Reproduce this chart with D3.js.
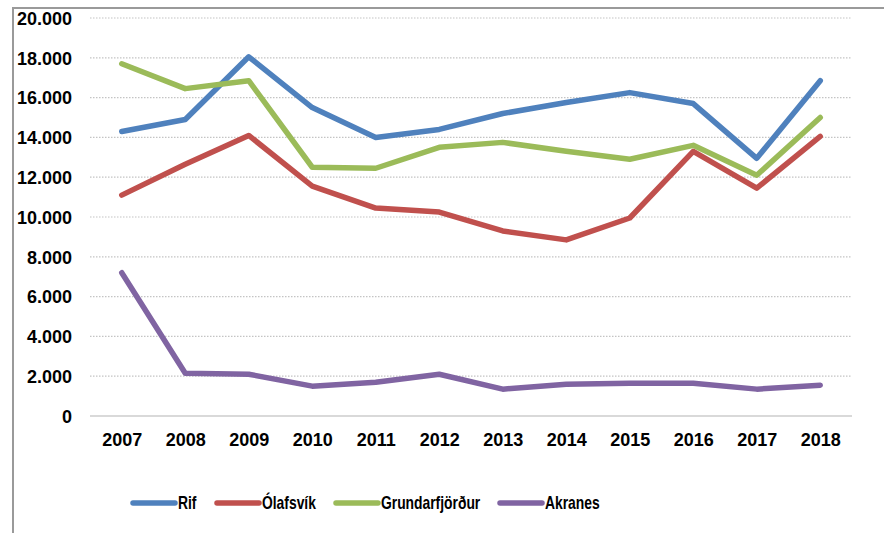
<!DOCTYPE html>
<html>
<head>
<meta charset="utf-8">
<script src="https://cdn.jsdelivr.net/npm/d3@7"></script>
<style>
  html, body { margin: 0; padding: 0; background: #fff; }
  svg { display: block; }
  text { font-family: "Liberation Sans", Arial, sans-serif; font-weight: bold; fill: #000; }
</style>
</head>
<body>
<svg id="chart" width="884" height="533"></svg>
<script>
// Yearly values per harbour
const years = ["2007","2008","2009","2010","2011","2012","2013","2014","2015","2016","2017","2018"];
const rif = [14300, 14900, 18050, 15500, 14000, 14400, 15200, 15750, 16250, 15700, 12950, 16850];
const olafsvik = [11100, 12650, 14100, 11550, 10450, 10250, 9300, 8850, 9950, 13300, 11450, 14050];
const grundarfjordur = [17700, 16450, 16850, 12500, 12450, 13500, 13750, 13300, 12900, 13600, 12100, 15000];
const akranes = [7200, 2150, 2100, 1500, 1700, 2100, 1350, 1600, 1650, 1650, 1350, 1550];
const yTicks = [0, 2000, 4000, 6000, 8000, 10000, 12000, 14000, 16000, 18000, 20000];

const series = [
  { name: "Rif", values: rif, color: "#4F81BD" },
  { name: "Ólafsvík", values: olafsvik, color: "#C0504D" },
  { name: "Grundarfjörður", values: grundarfjordur, color: "#9BBB59" },
  { name: "Akranes", values: akranes, color: "#8064A2" }
];

const svg = d3.select("#chart");

// Frame lines (left and top)
svg.append("path")
  .attr("d", "M13,533 L13,8 L884,8")
  .attr("fill", "none")
  .attr("stroke", "#9a9a9a")
  .attr("stroke-width", 2);

const plot = { left: 90, right: 852, top: 18, bottom: 416 };

const x = d3.scalePoint().domain(years).range([plot.left, plot.right]).padding(0.5);
const y = d3.scaleLinear().domain([0, 20000]).range([plot.bottom, plot.top]);

const fmt = v => v === 0 ? "0" : d3.format(",")(v).replace(/,/g, ".");

// Horizontal gridlines
svg.append("g").selectAll("line")
  .data(yTicks.filter(t => t > 0))
  .join("line")
  .attr("x1", plot.left).attr("x2", plot.right)
  .attr("y1", d => y(d)).attr("y2", d => y(d))
  .attr("stroke", "#c4c4c4")
  .attr("stroke-width", 1.2)
  .attr("stroke-dasharray", "1.5 1.5");

// Baseline
svg.append("line")
  .attr("x1", plot.left).attr("x2", plot.right)
  .attr("y1", y(0)).attr("y2", y(0))
  .attr("stroke", "#d9d9d9")
  .attr("stroke-width", 2);

// Y axis labels
const yAxis = d3.axisLeft(y).tickValues(yTicks).tickFormat(fmt).tickSize(0).tickPadding(0);
const gy = svg.append("g").attr("transform", "translate(72,0)").call(yAxis);
gy.select(".domain").remove();
gy.selectAll("text")
  .attr("font-size", 18)
  .attr("dy", "0.35em")
  .style("font-family", "'Liberation Sans', Arial, sans-serif")
  .style("font-weight", "bold");

// X axis labels
const xAxis = d3.axisBottom(x).tickSize(0).tickPadding(0);
const gx = svg.append("g").attr("transform", "translate(0,446)").call(xAxis);
gx.select(".domain").remove();
gx.selectAll("text")
  .attr("font-size", 18)
  .attr("dy", 0)
  .style("font-family", "'Liberation Sans', Arial, sans-serif")
  .style("font-weight", "bold");

// Series lines
const line = d3.line()
  .x((d, i) => x(years[i]))
  .y(d => y(d));

svg.append("g").selectAll("path")
  .data(series)
  .join("path")
  .attr("d", s => line(s.values))
  .attr("fill", "none")
  .attr("stroke", s => s.color)
  .attr("stroke-width", 5.5)
  .attr("stroke-linejoin", "round")
  .attr("stroke-linecap", "round");

// Legend (condensed bold labels)
const legendX = [133, 217, 336, 500];
const legend = svg.append("g").selectAll("g")
  .data(series)
  .join("g")
  .attr("transform", (s, i) => `translate(${legendX[i]},503)`);
legend.append("line")
  .attr("x1", 0).attr("x2", 42)
  .attr("y1", 0).attr("y2", 0)
  .attr("stroke", s => s.color)
  .attr("stroke-width", 5.5)
  .attr("stroke-linecap", "round");
legend.append("text")
  .attr("transform", "translate(45,0) scale(0.77,1)")
  .attr("dy", "0.35em")
  .attr("font-size", 18)
  .text(s => s.name);
</script>
</body>
</html>
